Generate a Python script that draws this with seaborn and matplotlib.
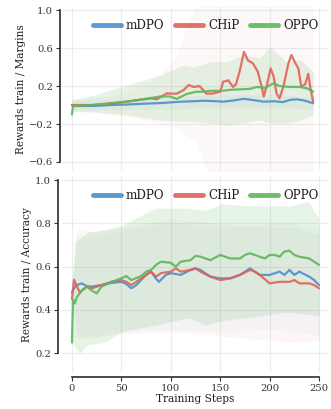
import numpy as np
import pandas as pd
import matplotlib
matplotlib.use("Agg")
import matplotlib.pyplot as plt
import seaborn as sns

# ---------------- data ----------------
methods = ["mDPO", "CHiP", "OPPO"]
colors = {"mDPO": "#4c8fcd", "CHiP": "#e0625a", "OPPO": "#5cb85a"}

# Top: Rewards train / Margins
m_mdpo_x = [0, 1, 10, 21, 40, 55, 75, 89, 100, 110, 122, 135, 145, 153, 165, 174, 185, 194, 205, 213, 221, 228, 236, 244]
m_mdpo_y = [0.0, -0.01, -0.01, -0.01, 0.0, 0.005, 0.015, 0.02, 0.028, 0.035, 0.04, 0.045, 0.04, 0.035, 0.05, 0.065,
            0.05, 0.035, 0.04, 0.03, 0.055, 0.06, 0.045, 0.018]
m_chip_x = [0, 10, 21, 40, 55, 72, 80, 86, 96, 100, 106, 113, 118, 123, 129, 136, 142, 146, 150, 153, 158, 163, 166,
            170, 174, 178, 183, 188, 192, 194, 197, 201, 204, 207, 210, 214, 219, 222, 226, 229, 232, 236, 239, 241, 244]
m_chip_y = [0.0, 0.0, 0.0, 0.015, 0.035, 0.06, 0.07, 0.06, 0.123, 0.12, 0.12, 0.158, 0.21, 0.19, 0.2, 0.12, 0.12,
            0.13, 0.14, 0.245, 0.26, 0.19, 0.22, 0.37, 0.56, 0.47, 0.44, 0.35, 0.19, 0.088, 0.2, 0.386, 0.3, 0.12,
            0.07, 0.2, 0.44, 0.526, 0.44, 0.386, 0.19, 0.22, 0.33, 0.19, 0.035]
m_oppo_x = [0, 1, 10, 21, 38, 55, 72, 89, 99, 106, 116, 126, 133, 140, 153, 160, 170, 180, 187, 195, 204, 210, 221,
            230, 238, 244]
m_oppo_y = [-0.10, -0.01, -0.005, 0.0, 0.018, 0.035, 0.06, 0.09, 0.09, 0.065, 0.116, 0.14, 0.14, 0.15, 0.15, 0.16,
            0.165, 0.17, 0.19, 0.18, 0.228, 0.2, 0.19, 0.19, 0.175, 0.14]

# bands (top)
mb_mdpo_x = [0, 50, 100, 150, 200, 244]
mb_mdpo_lo = [-0.05, -0.05, -0.04, -0.03, -0.03, -0.04]
mb_mdpo_hi = [0.05, 0.06, 0.09, 0.11, 0.11, 0.08]
mb_chip_x = [0, 40, 70, 89, 106, 116, 126, 133, 140, 160, 200, 244]
mb_chip_lo = [-0.06, -0.1, -0.15, -0.2, -0.245, -0.32, -0.386, -0.6, -0.75, -0.9, -0.9, -0.9]
mb_chip_hi = [0.06, 0.1, 0.2, 0.3, 0.53, 0.84, 1.05, 1.2, 1.3, 1.4, 1.4, 1.4]
mb_oppo_x = [0, 22, 55, 89, 113, 123, 140, 157, 173, 190, 200, 217, 231, 244]
mb_oppo_lo = [-0.07, -0.07, -0.105, -0.158, -0.17, -0.175, -0.19, -0.21, -0.19, -0.158, -0.19, -0.19, -0.16, -0.105]
mb_oppo_hi = [0.053, 0.105, 0.21, 0.316, 0.42, 0.40, 0.456, 0.456, 0.526, 0.50, 0.614, 0.456, 0.48, 0.35]

# Bottom: Rewards train / Accuracy
a_mdpo_x = [0, 2, 5, 10, 15, 20, 30, 40, 50, 55, 60, 65, 75, 80, 85, 88, 95, 100, 110, 120, 125, 130, 140, 150,
            160, 170, 180, 190, 200, 210, 215, 220, 225, 230, 240, 245, 250]
a_mdpo_y = [0.48, 0.50, 0.515, 0.523, 0.51, 0.508, 0.515, 0.525, 0.53, 0.52, 0.50, 0.515, 0.562, 0.577, 0.545, 0.53,
            0.562, 0.57, 0.562, 0.585, 0.592, 0.585, 0.554, 0.546, 0.546, 0.562, 0.592, 0.562, 0.562, 0.577, 0.562,
            0.585, 0.562, 0.577, 0.554, 0.538, 0.515]
a_chip_x = [0, 2, 5, 8, 10, 15, 20, 30, 40, 50, 55, 60, 65, 75, 80, 85, 90, 100, 105, 110, 120, 125, 130, 140, 150,
            160, 170, 180, 185, 190, 200, 210, 220, 225, 230, 240, 245, 250]
a_chip_y = [0.45, 0.54, 0.51, 0.48, 0.49, 0.508, 0.50, 0.515, 0.53, 0.538, 0.53, 0.515, 0.53, 0.562, 0.577, 0.554,
            0.57, 0.577, 0.592, 0.577, 0.585, 0.592, 0.577, 0.554, 0.538, 0.546, 0.562, 0.585, 0.577, 0.562, 0.523,
            0.53, 0.53, 0.538, 0.523, 0.523, 0.515, 0.50]
a_oppo_x = [0, 1, 3, 5, 10, 15, 20, 25, 30, 40, 50, 55, 60, 70, 75, 80, 85, 90, 100, 105, 110, 120, 125, 130, 140,
            150, 160, 170, 175, 180, 190, 195, 200, 205, 210, 215, 220, 225, 230, 240, 245, 250]
a_oppo_y = [0.25, 0.45, 0.43, 0.46, 0.49, 0.508, 0.49, 0.477, 0.508, 0.53, 0.546, 0.557, 0.538, 0.557, 0.577, 0.585,
            0.608, 0.623, 0.618, 0.60, 0.623, 0.63, 0.65, 0.646, 0.63, 0.654, 0.638, 0.638, 0.654, 0.662, 0.646,
            0.638, 0.654, 0.654, 0.646, 0.67, 0.674, 0.654, 0.646, 0.638, 0.623, 0.608]

ab_mdpo_x = [0, 5, 20, 50, 100, 150, 200, 225, 250]
ab_mdpo_lo = [0.48, 0.28, 0.28, 0.30, 0.31, 0.30, 0.31, 0.30, 0.28]
ab_mdpo_hi = [0.50, 0.75, 0.74, 0.77, 0.80, 0.78, 0.80, 0.80, 0.77]
ab_chip_x = [0, 5, 20, 50, 100, 150, 200, 225, 250]
ab_chip_lo = [0.45, 0.27, 0.27, 0.29, 0.30, 0.28, 0.26, 0.25, 0.26]
ab_chip_hi = [0.50, 0.78, 0.76, 0.78, 0.82, 0.80, 0.78, 0.78, 0.75]
ab_oppo_x = [0, 3, 8, 16, 33, 50, 84, 118, 135, 151, 185, 219, 239, 250]
ab_oppo_lo = [0.25, 0.225, 0.20, 0.24, 0.25, 0.30, 0.33, 0.364, 0.33, 0.35, 0.37, 0.39, 0.38, 0.37]
ab_oppo_hi = [0.50, 0.715, 0.73, 0.76, 0.77, 0.79, 0.87, 0.87, 0.86, 0.89, 0.88, 0.88, 0.90, 0.82]

x_ticks = [0, 50, 100, 150, 200, 250]
top_yticks = [-0.6, -0.2, 0.2, 0.6, 1.0]
bot_yticks = [0.2, 0.4, 0.6, 0.8, 1.0]

# ---------------- build tables ----------------
def long_df(series):
    rows = []
    for name, xs, ys in series:
        for x, y in zip(xs, ys):
            rows.append({"step": x, "value": y, "method": name})
    return pd.DataFrame(rows)

top_df = long_df([("mDPO", m_mdpo_x, m_mdpo_y), ("CHiP", m_chip_x, m_chip_y), ("OPPO", m_oppo_x, m_oppo_y)])
bot_df = long_df([("mDPO", a_mdpo_x, a_mdpo_y), ("CHiP", a_chip_x, a_chip_y), ("OPPO", a_oppo_x, a_oppo_y)])

top_bands = {"mDPO": (mb_mdpo_x, mb_mdpo_lo, mb_mdpo_hi),
             "CHiP": (mb_chip_x, mb_chip_lo, mb_chip_hi),
             "OPPO": (mb_oppo_x, mb_oppo_lo, mb_oppo_hi)}
bot_bands = {"mDPO": (ab_mdpo_x, ab_mdpo_lo, ab_mdpo_hi),
             "CHiP": (ab_chip_x, ab_chip_lo, ab_chip_hi),
             "OPPO": (ab_oppo_x, ab_oppo_lo, ab_oppo_hi)}
top_alpha = {"mDPO": 0.06, "CHiP": 0.04, "OPPO": 0.15}
bot_alpha = {"mDPO": 0.04, "CHiP": 0.05, "OPPO": 0.15}

# ---------------- style ----------------
sns.set_theme(style="ticks")
plt.rcParams["font.family"] = ["DejaVu Serif"]
plt.rcParams["axes.edgecolor"] = "#333333"
plt.rcParams["xtick.color"] = "#333333"
plt.rcParams["ytick.color"] = "#333333"
plt.rcParams["text.color"] = "#222222"
plt.rcParams["axes.labelcolor"] = "#222222"

fig = plt.figure(figsize=(3.31, 4.09), dpi=100)
ax_top = fig.add_axes([0.1873, 0.5807, 0.8036, 0.4017])
ax_bot = fig.add_axes([0.1873, 0.0885, 0.8036, 0.4819])

def draw(ax, df, bands, alphas):
    for m in methods:
        bx, blo, bhi = bands[m]
        ax.fill_between(bx, blo, bhi, color=colors[m], alpha=alphas[m], linewidth=0, zorder=1)
    sns.lineplot(data=df, x="step", y="value", hue="method", hue_order=methods, palette=colors,
                 linewidth=1.6, alpha=0.9, ax=ax, legend=False, zorder=3, errorbar=None)
    ax.grid(True, color="#ececec", linewidth=0.8, zorder=0)
    ax.set_axisbelow(True)
    ax.set_xlim(-10.1, 259)
    ax.set_xticks(x_ticks)
    ax.tick_params(axis="both", labelsize=7.2, length=3, width=0.8, pad=2)
    handles = [plt.Line2D([], [], color=colors[m], lw=3.5, alpha=0.9) for m in methods]
    return handles

leg_kw = dict(ncol=3, frameon=False, fontsize=8.6, handlelength=2.35, handletextpad=0.42,
              columnspacing=0.9, borderaxespad=0, loc="center right")

h = draw(ax_top, top_df, top_bands, top_alpha)
ax_top.set_ylim(-0.7, 1.03)
ax_top.set_yticks(top_yticks)
ax_top.set_yticklabels(["\u22120.6", "\u22120.2", "0.2", "0.6", "1.0"])
ax_top.set_ylabel("Rewards train / Margins", fontsize=7.6, labelpad=2)
ax_top.set_xlabel("")
ax_top.tick_params(axis="x", length=0, labelbottom=False)
ax_top.legend(h, methods, bbox_to_anchor=(0.982, 0.886), **leg_kw)
sns.despine(ax=ax_top, bottom=True, trim=True, offset=1.5)

h = draw(ax_bot, bot_df, bot_bands, bot_alpha)
ax_bot.set_ylim(0.11, 1.02)
ax_bot.set_yticks(bot_yticks)
ax_bot.set_ylabel("Rewards train / Accuracy", fontsize=7.6, labelpad=2)
ax_bot.set_xlabel("Training Steps", fontsize=7.6, labelpad=1)
ax_bot.legend(h, methods, bbox_to_anchor=(0.982, 0.898), **leg_kw)
sns.despine(ax=ax_bot, trim=True, offset=3)

fig.savefig("out.png", dpi=100)
